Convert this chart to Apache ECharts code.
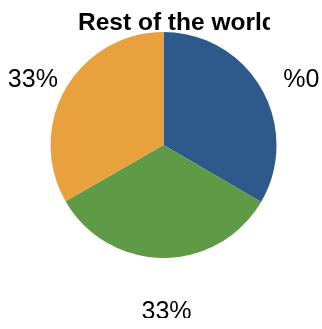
<!DOCTYPE html>
<html>
<head>
<meta charset="utf-8">
<style>
  html, body { margin: 0; padding: 0; background: #fff; }
  #chart { width: 322px; height: 329px; }
</style>
<script src="https://cdn.jsdelivr.net/npm/echarts@6/dist/echarts.min.js"></script>
</head>
<body>
<div id="chart"></div>
<script>
// Share of the three regions, clockwise from twelve o'clock
const categories = ['Region A', 'Region B', 'Region C'];
const values = [33.4, 33.3, 33.3];
const labelTexts = ['%0', '33%', '33%'];
const colors = ['#2D5A8B', '#5F9A47', '#E9A13D'];

const pieData = categories.map((name, i) => ({
  name: name,
  value: values[i],
  itemStyle: { color: colors[i] }
}));

const chart = echarts.init(document.getElementById('chart'), null, { renderer: 'canvas' });

chart.setOption({
  animation: false,
  backgroundColor: '#ffffff',
  title: {
    text: 'Rest of the world',
    left: 73,
    top: 6,
    textStyle: {
      fontFamily: 'Liberation Sans, Arial, sans-serif',
      fontWeight: 'bold',
      fontSize: 24.5,
      color: '#000'
    }
  },
  // the drawing area ends just past the title's last letter and above the bottom label's base
  graphic: [
    { type: 'rect', z: 100, silent: true, shape: { x: 270, y: 0, width: 60, height: 31 }, style: { fill: '#ffffff' } },
    { type: 'rect', z: 100, silent: true, shape: { x: 0, y: 318, width: 322, height: 12 }, style: { fill: '#ffffff' } }
  ],
  series: [
    {
      type: 'pie',
      center: [163.5, 145],
      radius: [0, 113],
      startAngle: 90,
      clockwise: true,
      silent: true,
      data: pieData,
      label: { show: false },
      labelLine: { show: false },
      itemStyle: { borderWidth: 0 }
    },
    {
      // transparent ring that only carries the percentage labels
      type: 'pie',
      center: [167, 157.5],
      radius: [0, 304],
      startAngle: 90,
      clockwise: true,
      silent: true,
      z: 1,
      data: pieData.map(d => ({ name: d.name, value: d.value })),
      itemStyle: { color: 'rgba(0,0,0,0)', borderWidth: 0 },
      label: {
        show: true,
        position: 'inside',
        formatter: p => labelTexts[p.dataIndex],
        fontFamily: 'Liberation Sans, Arial, sans-serif',
        fontSize: 25,
        color: '#000'
      },
      labelLine: { show: false }
    }
  ]
});
</script>
</body>
</html>
